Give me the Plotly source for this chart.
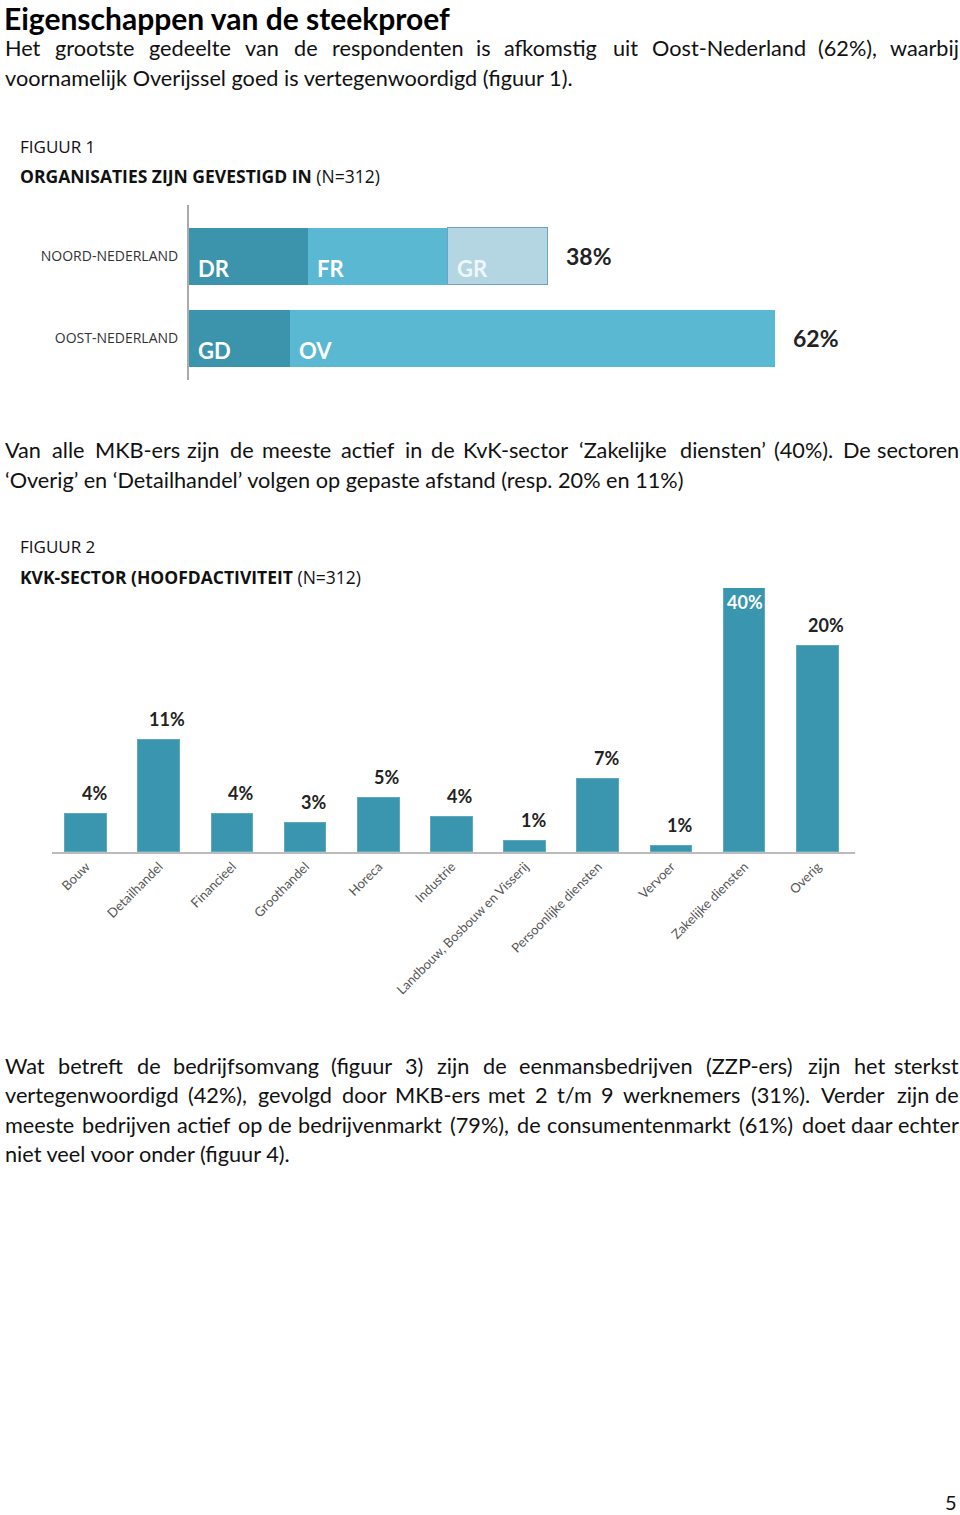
import plotly.graph_objects as go

# ---------------- data ----------------
regions = ["OOST-NEDERLAND", "NOORD-NEDERLAND"]
province_codes = ["DR", "FR", "GR", "GD", "OV"]
province_region = ["NOORD-NEDERLAND", "NOORD-NEDERLAND", "NOORD-NEDERLAND",
                   "OOST-NEDERLAND", "OOST-NEDERLAND"]
province_values = [12.6, 14.8, 10.6, 10.7, 51.3]
region_labels = {"NOORD-NEDERLAND": "38%", "OOST-NEDERLAND": "62%"}

sectors = ["Bouw", "Detailhandel", "Financieel", "Groothandel", "Horeca",
           "Industrie", "Landbouw, Bosbouw en Visserij", "Persoonlijke diensten",
           "Vervoer", "Zakelijke diensten", "Overig"]
sector_values = [3.8, 11.2, 3.8, 2.9, 5.4, 3.5, 1.1, 7.3, 0.6, 40.0, 20.6]
sector_labels = ["4%", "11%", "4%", "3%", "5%", "4%", "1%", "7%", "1%", "40%", "20%"]

title_text = "Eigenschappen van de steekproef"
para1 = ["Het grootste gedeelte van de respondenten is afkomstig uit Oost-Nederland (62%), waarbij",
         "voornamelijk Overijssel goed is vertegenwoordigd (figuur 1)."]
para2 = ["Van alle MKB-ers zijn de meeste actief in de KvK-sector \u2018Zakelijke diensten\u2019 (40%). De sectoren",
         "\u2018Overig\u2019 en \u2018Detailhandel\u2019 volgen op gepaste afstand (resp. 20% en 11%)"]
para3 = ["Wat betreft de bedrijfsomvang (figuur 3) zijn de eenmansbedrijven (ZZP-ers) zijn het sterkst",
         "vertegenwoordigd (42%), gevolgd door MKB-ers met 2 t/m 9 werknemers (31%). Verder zijn de",
         "meeste bedrijven actief op de bedrijvenmarkt (79%), de consumentenmarkt (61%) doet daar echter",
         "niet veel voor onder (figuur 4)."]

# ---------------- styling ----------------
W, H = 960, 1515
def px(x):
    return x / W
def py(y):
    return 1 - y / H

prov_colors = {"DR": "#3C94AC", "FR": "#5AB8D2", "GR": "#B4D6E3",
               "GD": "#3C94AC", "OV": "#5AB8D2"}
prov_text_colors = {"DR": "white", "FR": "white", "GR": "#EEF6F9",
                    "GD": "white", "OV": "white"}
bar2_color = "#3A95AE"
BODY = "Lato, 'Noto Sans', sans-serif"
CHART = "'Open Sans', 'Noto Sans', sans-serif"
NUM = "Lato, 'Open Sans', sans-serif"
BODY_SIZE = 21.7

# approximate Lato advance widths (em) used for justified lines
CW = {"i": 0.23, "j": 0.23, "l": 0.23, "I": 0.27, "f": 0.32, "t": 0.35, "r": 0.36,
      "s": 0.42, " ": 0.193, "(": 0.28, ")": 0.28, ".": 0.2, ",": 0.2, "-": 0.33,
      "/": 0.38, "\u2019": 0.2, "\u2018": 0.2, "%": 0.79, "m": 0.82, "w": 0.76,
      "M": 0.85, "W": 0.96, "O": 0.76, "N": 0.73, "D": 0.72, "K": 0.64, "B": 0.62,
      "V": 0.68, "Z": 0.6, "E": 0.55, "H": 0.73, "P": 0.6, "G": 0.72}
def est_width(word, size):
    tot = 0.0
    for ch in word:
        if ch in CW:
            tot += CW[ch]
        elif ch.isdigit():
            tot += 0.58
        elif ch.isupper():
            tot += 0.65
        else:
            tot += 0.52
    return tot * size * 1.03

fig = go.Figure()

# Figure 1: stacked horizontal bars
for code, reg, val in zip(province_codes, province_region, province_values):
    fig.add_trace(go.Bar(
        x=[val], y=[reg], orientation="h", name=code,
        marker=dict(color=prov_colors[code],
                    line=dict(color="#6FA3C2" if code == "GR" else prov_colors[code],
                              width=1.2 if code == "GR" else 0)),
        width=0.7, xaxis="x", yaxis="y", hoverinfo="skip",
    ))

# Figure 2: vertical bars
fig.add_trace(go.Bar(
    x=sectors, y=sector_values, marker=dict(color=bar2_color,
                                            line=dict(color="#5FA8BE", width=1)),
    width=0.57, xaxis="x2", yaxis="y2", hoverinfo="skip",
))

annotations = []
# segment labels in fig 1
cum = {}
for code, reg, val in zip(province_codes, province_region, province_values):
    start = cum.get(reg, 0)
    annotations.append(dict(
        x=start, y=reg, xref="x", yref="y", xanchor="left", yanchor="middle",
        xshift=7, yshift=-12, text="<b>" + code + "</b>", showarrow=False,
        font=dict(family=NUM, size=22, color=prov_text_colors[code]),
    ))
    cum[reg] = start + val
for reg in regions:
    annotations.append(dict(
        x=cum[reg], y=reg, xref="x", yref="y", xanchor="left", yanchor="middle",
        xshift=16, yshift=1, text="<b>" + region_labels[reg] + "</b>", showarrow=False,
        font=dict(family=NUM, size=23, color="#222222"),
    ))

# value labels in fig 2
Y2MAX = 26.4
for cat, val, lab in zip(sectors, sector_values, sector_labels):
    if val > Y2MAX:
        annotations.append(dict(
            x=cat, y=Y2MAX, xref="x2", yref="y2", xanchor="center", yanchor="top",
            yshift=-1, text="<b>" + lab + "</b>", showarrow=False,
            font=dict(family=NUM, size=18, color="white"),
        ))
    else:
        annotations.append(dict(
            x=cat, y=val, xref="x2", yref="y2", xanchor="center", yanchor="middle",
            xshift=8, yshift=21, text="<b>" + lab + "</b>", showarrow=False,
            font=dict(family=NUM, size=18, color="#222222"),
        ))

def add_text(text, x, y, size, family=BODY, color="#111111", xanchor="left"):
    annotations.append(dict(
        x=px(x), y=py(y), xref="paper", yref="paper", xanchor=xanchor, yanchor="middle",
        text=text, showarrow=False, font=dict(family=family, size=size, color=color),
    ))

def add_justified(line, left, right, y, size):
    words = line.split(" ")
    widths = [est_width(w, size) for w in words]
    gap = (right - left - sum(widths)) / (len(words) - 1)
    x = left
    for i, (w, wd) in enumerate(zip(words, widths)):
        if i == len(words) - 1:
            add_text(w, right, y, size, xanchor="right")
        else:
            add_text(w, x, y, size)
        x += wd + gap

def add_paragraph(lines, y0, step):
    for i, line in enumerate(lines):
        y = y0 + step * i
        if i < len(lines) - 1:
            add_justified(line, 3, 961, y, BODY_SIZE)
        else:
            add_text(line, 3, y, BODY_SIZE)

add_text("<b>" + title_text + "</b>", 2, 18, 30, color="#000000")
add_paragraph(para1, 48, 29.5)
add_text("FIGUUR 1", 18, 146, 17, family=CHART, color="#111111")
add_text("<b>ORGANISATIES ZIJN GEVESTIGD IN</b> (N=312)", 18, 176, 17.5, family=CHART)
add_paragraph(para2, 450, 30)
add_text("FIGUUR 2", 18, 547, 17, family=CHART)
add_text("<b>KVK-SECTOR (HOOFDACTIVITEIT</b> (N=312)", 18, 577, 17.5, family=CHART)
add_paragraph(para3, 1066, 29.3)
add_text("5", 959, 1502, 20, xanchor="right")

fig.update_layout(
    width=W, height=H, margin=dict(l=0, r=0, t=0, b=0),
    paper_bgcolor="white", plot_bgcolor="white",
    showlegend=False, barmode="stack", bargap=0,
    annotations=annotations,
    xaxis=dict(domain=[px(189), px(898)], range=[0, 75], visible=False, fixedrange=True),
    yaxis=dict(domain=[py(380), py(205)], type="category",
               categoryorder="array", categoryarray=regions,
               range=[-0.506, 1.628], showline=True, linecolor="#AAAAAA", linewidth=2,
               showgrid=False, zeroline=False, ticks="", ticklabelstandoff=6,
               tickfont=dict(family=CHART, size=14, color="#333333")),
    xaxis2=dict(domain=[px(52), px(855)], anchor="y2", type="category",
                range=[-0.465, 10.51], showline=True, linecolor="#BBBBBB", linewidth=2,
                showgrid=False, zeroline=False, ticks="", tickangle=-45,
                tickfont=dict(family=NUM, size=13, color="#555555")),
    yaxis2=dict(domain=[py(852), py(588)], anchor="x2", range=[0, Y2MAX],
                visible=False, showgrid=False, zeroline=False),
)

fig.write_html("out.html", config={"displayModeBar": False},
               post_script="document.body.style.margin='0';document.body.style.padding='0';")
